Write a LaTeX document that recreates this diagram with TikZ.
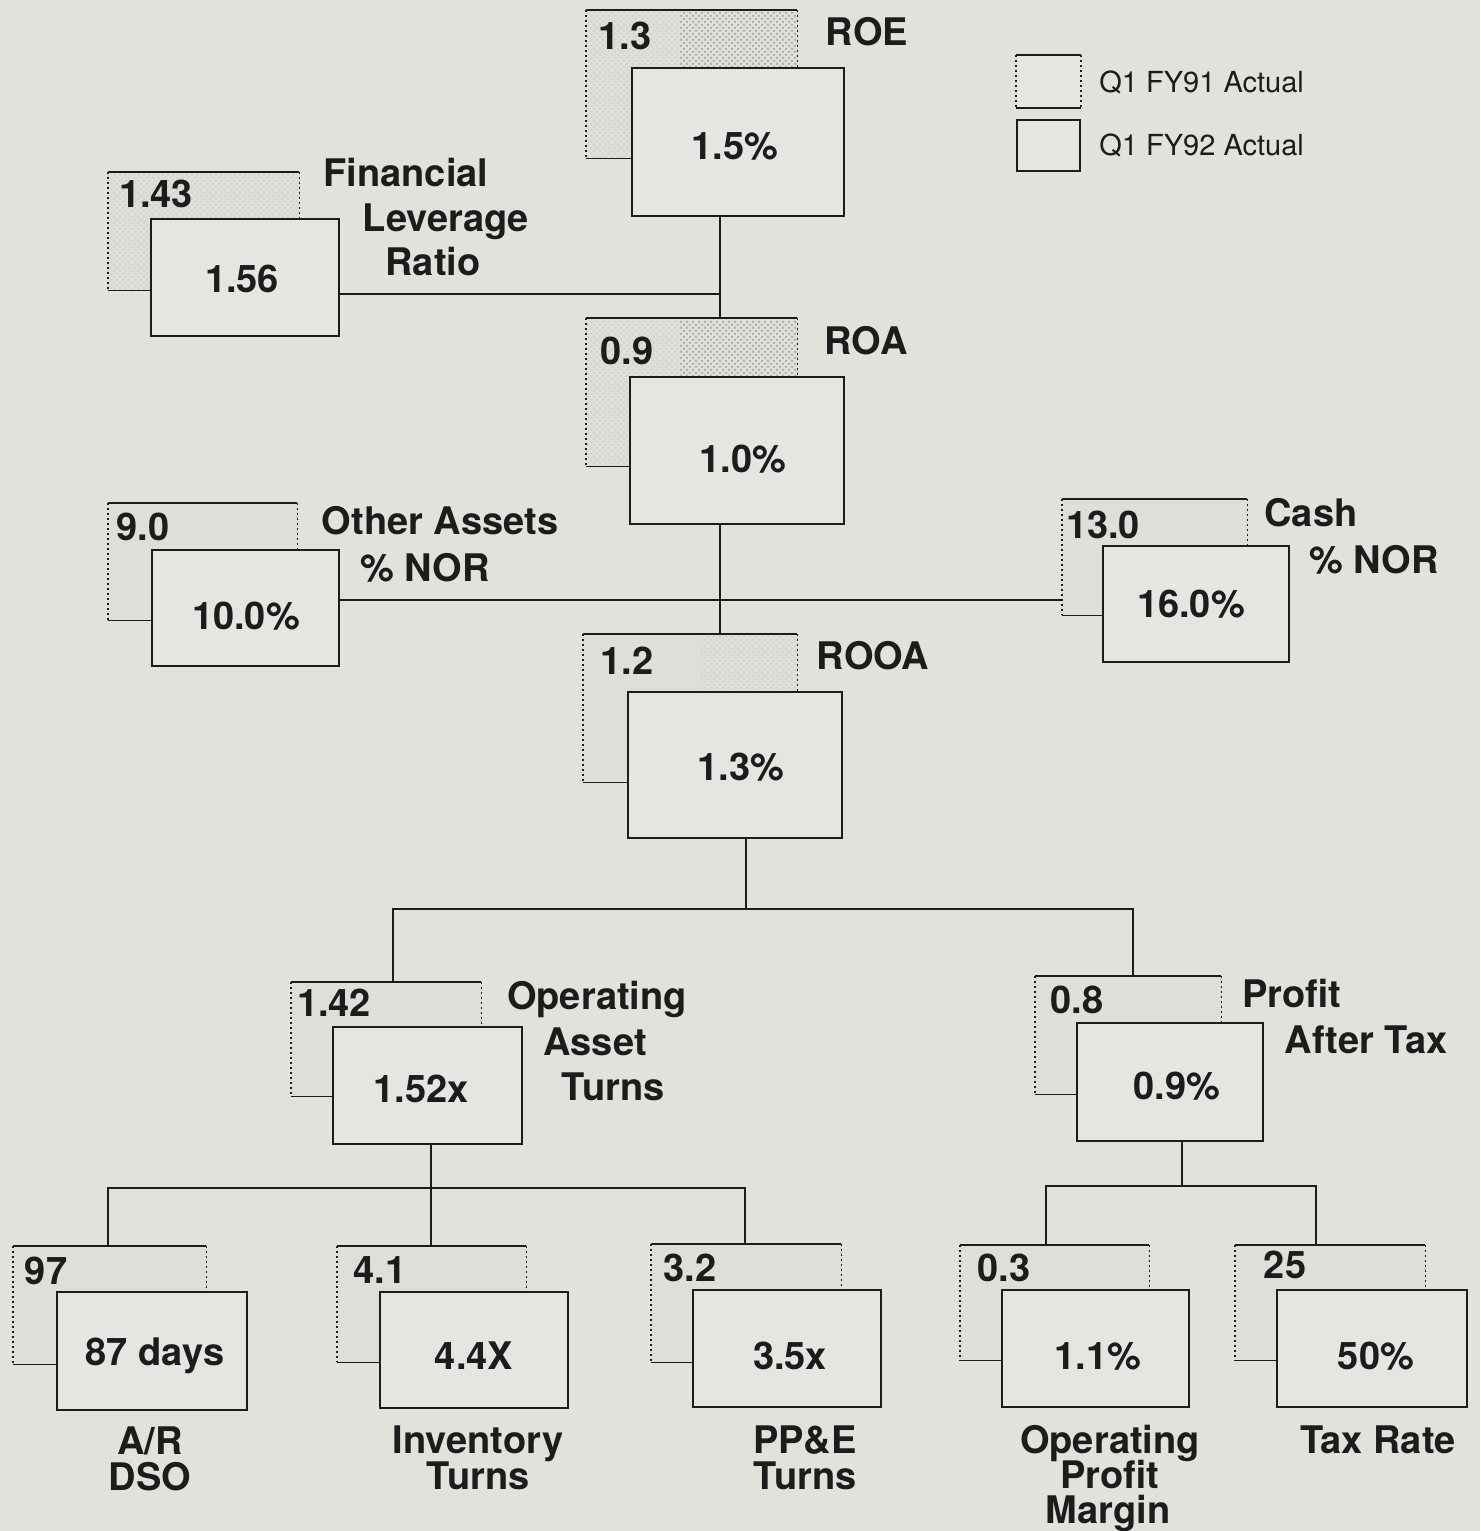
\documentclass[tikz,border=0pt]{standalone}
\usepackage{fontspec}
\setmainfont{TeX Gyre Heros}
\usetikzlibrary{patterns}

\definecolor{paper}{RGB}{226,226,221}
\definecolor{cardfront}{RGB}{229,229,225}
\definecolor{cardback}{RGB}{223,223,218}
\definecolor{ink}{RGB}{28,28,28}

\newcommand\valfont{\bfseries\fontsize{19}{17.5}\selectfont}
\newcommand\keyfont{\fontsize{14.5}{17}\selectfont}

% previous-year card: plain fill, solid top/bottom, dotted sides
\newcommand\backcard[5]{%
  \node[cardbackbox, minimum width={(#4-#2)*0.5pt}, minimum height={(#5-#3)*0.5pt}]
    (#1) at ({(#2+#4)/2},{(#3+#5)/2}) {};
}
\newcommand\backedges[1]{%
  \draw[backedge] (#1.north west) -- (#1.north east) (#1.south west) -- (#1.south east);
  \draw[backside] (#1.north west) -- (#1.south west) (#1.north east) -- (#1.south east);
}
% current-year card
\newcommand\frontcard[5]{%
  \node[cardfrontbox, minimum width={(#4-#2)*0.5pt}, minimum height={(#5-#3)*0.5pt}]
    (#1) at ({(#2+#4)/2},{(#3+#5)/2}) {};
}

\tikzset{
  cardfrontbox/.style={draw=ink, line width=1pt, fill=cardfront, inner sep=0pt},
  cardbackbox/.style={draw=none, fill=cardback, inner sep=0pt},
  backedge/.style={draw=ink, line width=0.9pt},
  backside/.style={draw=ink, line width=0.9pt, dash pattern=on 1.2pt off 1.3pt},
  link/.style={draw=ink, line width=1pt},
  val/.style={inner sep=0pt, font=\valfont, text=ink, anchor=base},
  lbl/.style={inner sep=0pt, font=\valfont, text=ink, anchor=base},
  keytext/.style={inner sep=0pt, font=\keyfont, text=ink, anchor=base west},
  stipple/.style={pattern=crosshatch dots, pattern color=ink!45},
  lightstipple/.style={pattern=crosshatch dots, pattern color=ink!22},
}

\begin{document}
\begin{tikzpicture}[x=0.5pt, y=-0.5pt]
\useasboundingbox (0,0) rectangle (1480,1531);
\fill[paper] (0,0) rectangle (1480,1531);

% ---------- junctions ----------
\coordinate (levJ) at (720,294);
\coordinate (norJ) at (720,600);
\coordinate (rooaJ) at (746,909);
\coordinate (oatJ) at (393,909);
\coordinate (patJ) at (1133,909);
\coordinate (oatJb) at (431,1188);
\coordinate (arJ) at (108,1188);
\coordinate (ppeJ) at (745,1188);
\coordinate (patJb) at (1182,1186);
\coordinate (opmJ) at (1046,1186);
\coordinate (taxJ) at (1316,1186);

% ---------- previous-year cards ----------
\backcard{roeB}{586}{10}{797}{158}
\backcard{flrB}{108}{172}{299}{290}
\backcard{roaB}{586}{318}{797}{466}
\backcard{oaB}{108}{503}{297}{620}
\backcard{cashB}{1062}{499}{1247}{615}
\backcard{rooaB}{583}{634}{797}{782}
\backcard{oatB}{291}{982}{481}{1096}
\backcard{patB}{1035}{976}{1221}{1094}
\backcard{arB}{13}{1246}{206}{1364}
\backcard{invB}{337}{1246}{526}{1362}
\backcard{ppeB}{651}{1244}{841}{1362}
\backcard{opmB}{960}{1245}{1149}{1360}
\backcard{taxB}{1235}{1245}{1425}{1360}

% screened tint on the upper cards: light overall, heavier to the right
\fill[lightstipple] (roeB.north west) rectangle (roeB.south east);
\fill[stipple] (680,12) rectangle (roeB.east |- 0,66);
\fill[lightstipple] (roaB.north west) rectangle (roaB.south east);
\fill[stipple] (680,320) rectangle (roaB.east |- 0,375);
\fill[lightstipple] (700,636) rectangle (rooaB.east |- 0,690);
\fill[lightstipple] (flrB.north west) rectangle (flrB.south east);

\foreach \c in {roeB,flrB,roaB,oaB,cashB,rooaB,oatB,patB,arB,invB,ppeB,opmB,taxB}
  {\backedges{\c}}

% ---------- links ----------
\draw[link] (levJ |- roeB.south) -- (levJ |- roaB.north);
\draw[link] (norJ |- roaB.south) -- (norJ |- rooaB.north);
\draw[link] (rooaJ |- rooaB.south) -- (rooaJ);
\draw[link] (oatJ |- oatB.north) -- (oatJ) -- (patJ) -- (patJ |- patB.north);
\draw[link] (oatJb |- oatB.south) -- (oatJb);
\draw[link] (arJ |- arB.north) -- (arJ) -- (ppeJ) -- (ppeJ |- ppeB.north);
\draw[link] (oatJb) -- (oatJb |- invB.north);
\draw[link] (patJb |- patB.south) -- (patJb);
\draw[link] (opmJ |- opmB.north) -- (opmJ) -- (taxJ) -- (taxJ |- taxB.north);

% ---------- current-year cards ----------
\frontcard{roeF}{632}{68}{844}{216}
\frontcard{flrF}{151}{219}{339}{336}
\frontcard{roaF}{630}{377}{844}{524}
\frontcard{oaF}{152}{550}{339}{666}
\frontcard{cashF}{1103}{546}{1289}{662}
\frontcard{rooaF}{628}{692}{842}{838}
\frontcard{oatF}{333}{1027}{522}{1144}
\frontcard{patF}{1077}{1023}{1263}{1141}
\frontcard{arF}{57}{1292}{247}{1410}
\frontcard{invF}{380}{1292}{568}{1408}
\frontcard{ppeF}{693}{1290}{881}{1407}
\frontcard{opmF}{1002}{1290}{1189}{1407}
\frontcard{taxF}{1277}{1290}{1467}{1407}

% links that leave the current-year cards sideways
\draw[link] (flrF.east |- levJ) -- (levJ);
\draw[link] (oaF.east |- norJ) -- (cashB.west |- norJ);

% ---------- current-year values ----------
\node[val] (roeN) at (735,159) {1.5\%};
\node[val] (flrN) at (242,292) {1.56};
\node[val] (roaN) at (743,472) {1.0\%};
\node[val] (oaN) at (246,629) {10.0\%};
\node[val] (cashN) at (1191,617) {16.0\%};
\node[val] (rooaN) at (741,780) {1.3\%};
\node[val] (oatN) at (421,1102) {1.52x};
\node[val] (patN) at (1177,1099) {0.9\%};
\node[val] (arN) at (155,1365) {87 days};
\node[val] (invN) at (474,1369) {4.4X};
\node[val] (ppeN) at (790,1369) {3.5x};
\node[val] (opmN) at (1098,1369) {1.1\%};
\node[val] (taxN) at (1376,1369) {50\%};

% ---------- previous-year values ----------
\node[val] (roeV) at (625,49) {1.3};
\node[val] (flrV) at (156,207) {1.43};
\node[val] (roaV) at (627,364) {0.9};
\node[val] (oaV) at (143,540) {9.0};
\node[val] (cashV) at (1103,538) {13.0};
\node[val] (rooaV) at (627,674) {1.2};
\node[val] (oatV) at (334,1016) {1.42};
\node[val] (patV) at (1077,1013) {0.8};
\node[val] (arV) at (46,1284) {97};
\node[val] (invV) at (380,1283) {4.1};
\node[val] (ppeV) at (690,1281) {3.2};
\node[val] (opmV) at (1004,1281) {0.3};
\node[val] (taxV) at (1285,1278) {25};

% ---------- labels ----------
\node[lbl] (roeL) at (867,46) {ROE};
\node[lbl] (flrL1) at (406,186) {Financial};
\node[lbl] (flrL2) at (446,231) {Leverage};
\node[lbl] (flrL3) at (433,275) {Ratio};
\node[lbl] (roaL) at (866,354) {ROA};
\node[lbl] (oaL1) at (440,534) {Other Assets};
\node[lbl] (oaL2) at (425,581) {\% NOR};
\node[lbl] (cashL1) at (1311,526) {Cash};
\node[lbl] (cashL2) at (1374,573) {\% NOR};
\node[lbl] (rooaL) at (873,669) {ROOA};
\node[lbl] (oatL1) at (597,1009) {Operating};
\node[lbl] (oatL2) at (595,1055) {Asset};
\node[lbl] (oatL3) at (613,1100) {Turns};
\node[lbl] (patL1) at (1292,1007) {Profit};
\node[lbl] (patL2) at (1366,1053) {After Tax};
\node[lbl] (arL1) at (150,1454) {A/R};
\node[lbl] (arL2) at (150,1490) {DSO};
\node[lbl] (invL1) at (478,1453) {Inventory};
\node[lbl] (invL2) at (478,1489) {Turns};
\node[lbl] (ppeL1) at (805,1453) {PP\&E};
\node[lbl] (ppeL2) at (805,1489) {Turns};
\node[lbl] (opmL1) at (1110,1453) {Operating};
\node[lbl] (opmL2) at (1110,1488) {Profit};
\node[lbl] (opmL3) at (1108,1523) {Margin};
\node[lbl] (taxL) at (1378,1453) {Tax Rate};

% ---------- key ----------
\node[cardfrontbox, draw=none, minimum width=31.5pt, minimum height=25.5pt] (keyOld) at (1048.5,81.5) {};
\backedges{keyOld}
\frontcard{keyNew}{1017}{120}{1080}{171}
\node[keytext] (keyOldT) at (1099,92) {Q1 FY91 Actual};
\node[keytext] (keyNewT) at (1099,155) {Q1 FY92 Actual};
\end{tikzpicture}
\end{document}
